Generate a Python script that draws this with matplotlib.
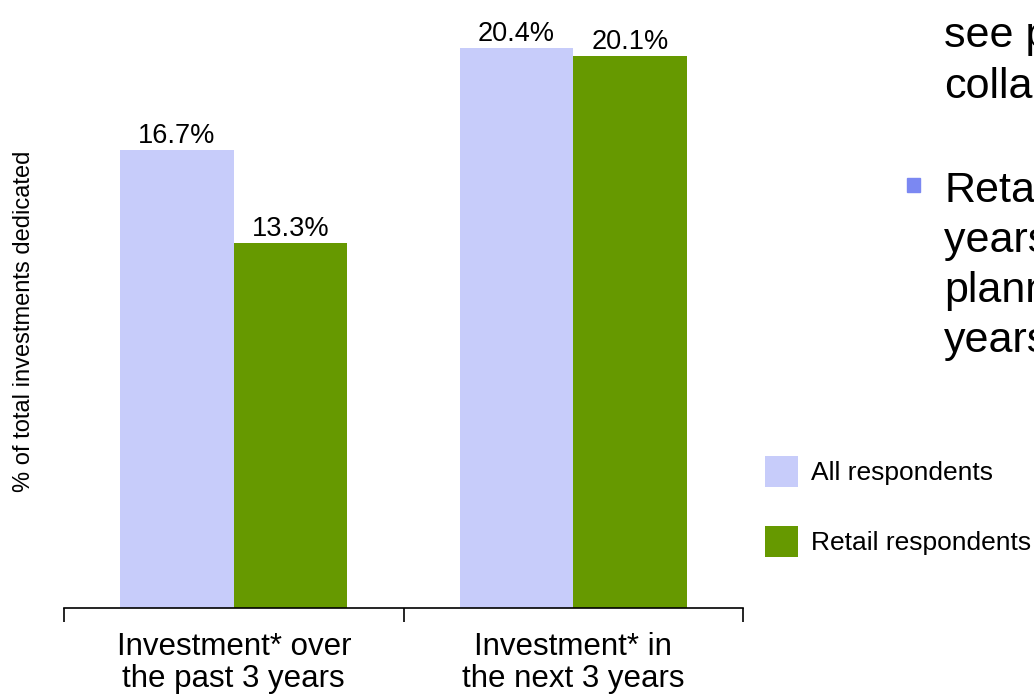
import matplotlib.pyplot as plt
import numpy as np

categories = ["Investment* over\nthe past 3 years", "Investment* in\nthe next 3 years"]
all_resp = [16.7, 20.4]
retail_resp = [13.3, 20.1]
series_names = ["All respondents", "Retail respondents"]

side_lines = ["see potential", "collaboration"]
bullet_lines = ["Retailers", "years ahead", "planning", "years"]

light = "#C7CCFA"
green = "#669900"
font = ["Liberation Sans", "DejaVu Sans"]
plt.rcParams["font.family"] = font

fig = plt.figure(figsize=(10.34, 6.97), dpi=100)
ax = fig.add_axes([64 / 1034, 89 / 697, 679 / 1034, 608 / 697])

x = np.arange(len(categories))
w = 0.335
b1 = ax.bar(x - w / 2, all_resp, w, color=light, label=series_names[0])
b2 = ax.bar(x + w / 2, retail_resp, w, color=green, label=series_names[1])

for bars, vals in ((b1, all_resp), (b2, retail_resp)):
    for r, v in zip(bars, vals):
        ax.annotate(f"{v:.1f}%", (r.get_x() + r.get_width() / 2, v),
                    xytext=(0, 5), textcoords="offset points",
                    ha="center", va="baseline", fontsize=19.5)

ax.set_xlim(-0.5, 1.5)
ax.set_ylim(0, 22.15)
for s in ("left", "right", "top"):
    ax.spines[s].set_visible(False)
ax.spines["bottom"].set_linewidth(1.2)
ax.set_yticks([])

# category boundaries carry the ticks, labels sit between them
ax.set_xticks([-0.5, 0.5, 1.5])
ax.set_xticklabels([])
ax.tick_params(axis="x", length=10, width=1.2, direction="out")
ax.set_xticks(x, minor=True)
ax.set_xticklabels(categories, minor=True, fontsize=22.5, linespacing=1.12)
ax.tick_params(axis="x", which="minor", length=0, pad=17)

fig.text(24 / 1034, 1 - 321 / 697, "% of total investments dedicated",
         rotation=90, ha="center", va="center", fontsize=17)

# legend drawn as squares next to the plot
fig.legend(handles=[b1, b2], labels=series_names, loc="upper left",
           bbox_to_anchor=(765 / 1034, 1 - 456 / 697), frameon=False,
           fontsize=19, handlelength=1.25, handleheight=1.45,
           handletextpad=0.5, labelspacing=1.45, borderpad=0,
           borderaxespad=0)

# commentary text running off the right edge
y0 = 1 - 47 / 697
for i, s in enumerate(side_lines):
    fig.text(944 / 1034, y0 - i * 51 / 697, s, ha="left", va="baseline",
             fontsize=31)
y1 = 1 - 202 / 697
for i, s in enumerate(bullet_lines):
    fig.text(944 / 1034, y1 - i * 50 / 697, s, ha="left", va="baseline",
             fontsize=31)
fig.patches.append(plt.Rectangle((907 / 1034, 1 - 192 / 697), 13 / 1034, 14 / 697,
                                 transform=fig.transFigure, color="#7B88F2",
                                 figure=fig))

fig.savefig("out.png", dpi=100)
